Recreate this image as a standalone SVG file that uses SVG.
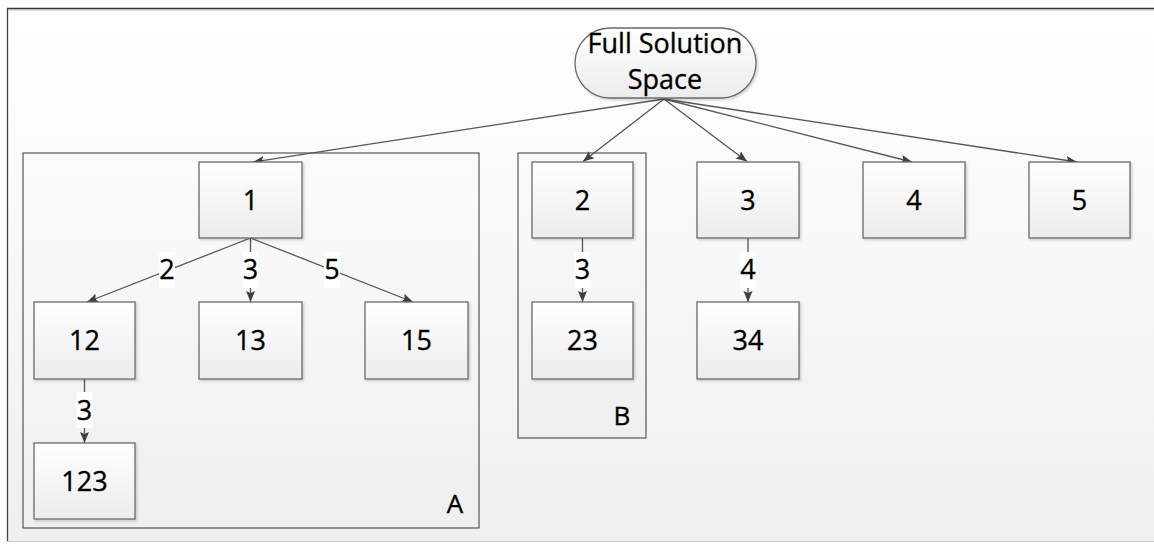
<svg xmlns="http://www.w3.org/2000/svg" width="1154" height="544" viewBox="0 0 1154 544">
  <style>
    .t { font-family: "Open Sans", "Liberation Sans", sans-serif; font-size: 27px; fill: #000; stroke: #000; stroke-width: 0.35; text-anchor: middle; }
    .grp { font-size: 26px; }
    .box { fill: url(#boxFill); stroke: #6a6a6a; stroke-width: 1.3; filter: url(#shadow); }
    .cont { fill: url(#contFill); stroke: #555; stroke-width: 1.2; }
    .edge { fill: none; stroke: #555; stroke-width: 1.3; marker-end: url(#arrow); }
    .lblbg { fill: #ffffff; }
  </style>
  <defs>
    <linearGradient id="bgFill" x1="0" y1="0" x2="0" y2="1">
      <stop offset="0" stop-color="#ffffff"/>
      <stop offset="1" stop-color="#efefef"/>
    </linearGradient>
    <linearGradient id="contFill" x1="0" y1="0" x2="0" y2="1">
      <stop offset="0" stop-color="#fbfbfb"/>
      <stop offset="1" stop-color="#efefef"/>
    </linearGradient>
    <linearGradient id="boxFill" x1="0" y1="0" x2="0" y2="1">
      <stop offset="0" stop-color="#ffffff"/>
      <stop offset="1" stop-color="#ececec"/>
    </linearGradient>
    <filter id="shadow" x="-10%" y="-10%" width="125%" height="125%">
      <feDropShadow dx="1.5" dy="1.5" stdDeviation="1" flood-color="#000" flood-opacity="0.18"/>
    </filter>
    <marker id="arrow" viewBox="0 0 11 10" refX="11" refY="5" markerWidth="11" markerHeight="10" markerUnits="userSpaceOnUse" orient="auto">
      <path d="M0,0.5 L11,5 L0,9.5 L2,5 Z" fill="#404040"/>
    </marker>
  </defs>

  <!-- page background and frame -->
  <rect x="0" y="0" width="1154" height="544" fill="#ffffff"/>
  <rect x="8" y="8.5" width="1150" height="532.5" fill="url(#bgFill)"/>
  <line x1="7" y1="8.5" x2="1154" y2="8.5" stroke="#3a3a3a" stroke-width="1.3"/>
  <line x1="7" y1="9.8" x2="1154" y2="9.8" stroke="#b0b0b0" stroke-width="1"/>
  <line x1="7.5" y1="8" x2="7.5" y2="541" stroke="#444" stroke-width="1.3"/>
  <line x1="7" y1="541.5" x2="1154" y2="541.5" stroke="#c8c8c8" stroke-width="1"/>

  <!-- containers -->
  <g id="groupA">
    <rect class="cont" x="23" y="153" width="456" height="375"/>
    <text class="t grp" x="455" y="513">A</text>
  </g>
  <g id="groupB">
    <rect class="cont" x="518" y="153" width="128" height="285"/>
    <text class="t grp" x="622" y="425">B</text>
  </g>

  <!-- connectors -->
  <g id="connectors">
    <path class="edge" d="M664,99 L253,162"/>
    <path class="edge" d="M664,99 L583,161.5"/>
    <path class="edge" d="M664,99 L747,161.5"/>
    <path class="edge" d="M664,99 L912,162"/>
    <path class="edge" d="M664,99 L1077,162"/>

    <path class="edge" d="M250.5,238 L87,302"/>
    <path class="edge" d="M250.5,238 L250.5,302"/>
    <path class="edge" d="M250.5,238 L413,302"/>
    <path class="edge" d="M84.5,379 L84.5,443"/>
    <path class="edge" d="M582.5,238 L582.5,302"/>
    <path class="edge" d="M748,238 L748,302"/>

    <!-- edge labels -->
    <rect class="lblbg" x="159" y="252" width="16" height="36"/>
    <text class="t" x="167" y="279">2</text>
    <rect class="lblbg" x="242.5" y="252" width="16" height="36"/>
    <text class="t" x="250.5" y="279">3</text>
    <rect class="lblbg" x="324" y="252" width="16" height="36"/>
    <text class="t" x="332" y="279">5</text>
    <rect class="lblbg" x="76.5" y="392" width="16" height="36"/>
    <text class="t" x="84.5" y="420">3</text>
    <rect class="lblbg" x="574.5" y="252" width="16" height="36"/>
    <text class="t" x="582.5" y="279">3</text>
    <rect class="lblbg" x="740" y="252" width="16" height="36"/>
    <text class="t" x="748" y="279">4</text>
  </g>

  <!-- root -->
  <g id="root">
    <rect class="box" x="575" y="28" width="181" height="70" rx="35" ry="35"/>
    <text class="t" x="665" y="53">Full Solution</text>
    <text class="t" x="665" y="89">Space</text>
  </g>

  <!-- first level -->
  <g id="n1"><rect class="box" x="199" y="162" width="103" height="76"/><text class="t" x="250.5" y="209.5">1</text></g>
  <g id="n2"><rect class="box" x="532" y="162" width="101" height="76"/><text class="t" x="582.5" y="209.5">2</text></g>
  <g id="n3"><rect class="box" x="697" y="162" width="102" height="76"/><text class="t" x="748" y="209.5">3</text></g>
  <g id="n4"><rect class="box" x="863" y="162" width="102" height="76"/><text class="t" x="914" y="209.5">4</text></g>
  <g id="n5"><rect class="box" x="1029" y="162" width="101" height="76"/><text class="t" x="1079.5" y="209.5">5</text></g>

  <!-- second level -->
  <g id="n12"><rect class="box" x="34" y="302" width="101" height="77"/><text class="t" x="84.5" y="350">12</text></g>
  <g id="n13"><rect class="box" x="199" y="302" width="103" height="77"/><text class="t" x="250.5" y="350">13</text></g>
  <g id="n15"><rect class="box" x="365" y="302" width="103" height="77"/><text class="t" x="416.5" y="350">15</text></g>
  <g id="n23"><rect class="box" x="532" y="302" width="101" height="77"/><text class="t" x="582.5" y="350">23</text></g>
  <g id="n34"><rect class="box" x="697" y="302" width="102" height="77"/><text class="t" x="748" y="350">34</text></g>

  <!-- third level -->
  <g id="n123"><rect class="box" x="34" y="443" width="101" height="76"/><text class="t" x="84.5" y="490.5">123</text></g>
</svg>
